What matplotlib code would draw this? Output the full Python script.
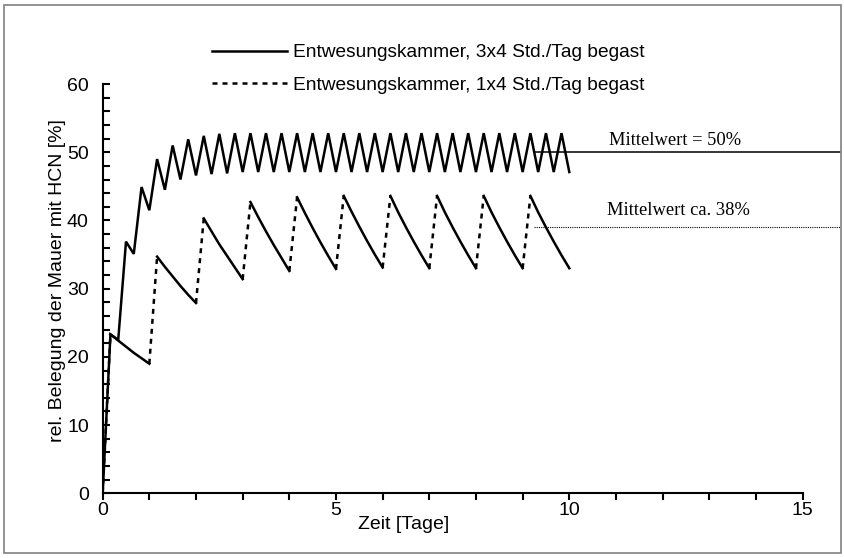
import numpy as np
import matplotlib
matplotlib.use("Agg")
import matplotlib.pyplot as plt
from matplotlib.patches import Rectangle

plt.rcParams['font.family'] = ['Liberation Sans', 'DejaVu Sans']

# 3x4 Std./Tag: Wert alle 4 Stunden (1/6 Tag), Tag 0..10
t_3x4 = np.arange(61) / 6
y_3x4 = [0, 23.3, 22.5, 36.9, 35.1, 44.9, 41.5, 49.0, 44.5, 51.0, 46.0,
         51.9, 46.6, 52.4, 46.8, 52.7, 46.9,
         52.8, 47.1, 52.8, 47.1, 52.8, 47.1, 52.8, 47.1, 52.8, 47.1,
         52.8, 47.1, 52.8, 47.1, 52.8, 47.1, 52.8, 47.1, 52.8, 47.1,
         52.8, 47.1, 52.8, 47.1, 52.8, 47.1, 52.8, 47.1, 52.8, 47.1,
         52.8, 47.1, 52.8, 47.1, 52.8, 47.1, 52.8, 47.1, 52.8, 47.1,
         52.8, 47.1, 52.8, 47.1]

# 1x4 Std./Tag: Begasung am Tagesbeginn (4 h), danach Abklingen bis Tagesende
days_1x4 = [0, 1, 2, 3, 4, 5, 6, 7, 8, 9]
start_1x4 = [0, 19.0, 27.9, 31.4, 32.6, 32.9, 33.1, 33.0, 33.0, 33.0]
decay_1x4 = [
    [23.3, 22.4, 21.5, 20.6, 19.8, 19.0],
    [34.7, 33.2, 31.8, 30.4, 29.1, 27.9],
    [40.3, 38.4, 36.5, 34.8, 33.1, 31.4],
    [42.7, 40.5, 38.4, 36.4, 34.5, 32.6],
    [43.4, 41.1, 38.9, 36.8, 34.8, 32.9],
    [43.6, 41.3, 39.1, 37.0, 35.0, 33.1],
    [43.6, 41.2, 39.0, 36.9, 34.9, 33.0],
    [43.6, 41.2, 39.0, 36.9, 34.9, 33.0],
    [43.6, 41.2, 39.0, 36.9, 34.9, 33.0],
    [43.6, 41.2, 39.0, 36.9, 34.9, 33.0],
]
decay_t = [1 / 6, 1 / 3, 1 / 2, 2 / 3, 5 / 6, 1]

mean_3x4 = 50
mean_1x4 = 39.1
mean_start = 9.25

fig = plt.figure(figsize=(8.45, 5.58), dpi=100)
ax = fig.add_axes([0.1215, 0.1159, 0.8725, 0.7335])

lw = 1.8
dash = (0, (2.0, 2.0))
ax.plot(t_3x4, y_3x4, color='black', lw=lw, solid_joinstyle='miter',
        label='Entwesungskammer, 3x4 Std./Tag begast')
for i, d in enumerate(days_1x4):
    ax.plot([d, d + 1 / 6], [start_1x4[i], decay_1x4[i][0]], color='black', lw=lw,
            linestyle=dash, label='Entwesungskammer, 1x4 Std./Tag begast' if i == 0 else None)
    ax.plot([d + s for s in decay_t], decay_1x4[i], color='black', lw=lw)

ax.plot([mean_start, 15.8], [mean_3x4, mean_3x4], color='black', lw=1.1, clip_on=False)
ax.plot([mean_start, 15.8], [mean_1x4, mean_1x4], color='black', lw=0.8,
        linestyle=(0, (1, 1)), clip_on=False)
ax.text(10.85, 51.1, 'Mittelwert = 50%', family='Liberation Serif', fontsize=13.3, va='baseline')
ax.text(10.8, 40.8, 'Mittelwert ca. 38%', family='Liberation Serif', fontsize=13.3, va='baseline')

ax.set_xlim(0, 15.8)
ax.set_ylim(0, 60)
ax.spines['top'].set_visible(False)
ax.spines['right'].set_visible(False)
ax.spines['bottom'].set_bounds(0, 15)
ax.spines['left'].set_linewidth(1.5)
ax.spines['bottom'].set_linewidth(1.5)
ax.set_xticks([0, 5, 10, 15])
ax.set_xticks(np.arange(0, 16, 1), minor=True)
ax.set_yticks(np.arange(0, 61, 10))
ax.set_yticks(np.arange(0, 61, 2), minor=True)
ax.tick_params(axis='x', which='both', direction='out', length=5, width=1.5, labelsize=14, pad=1.5)
ax.tick_params(axis='y', which='both', direction='in', length=5, width=1.5, labelsize=14, pad=10)

ax.set_xlabel('Zeit [Tage]', fontsize=14)
ax.xaxis.set_label_coords(0.4087, -0.055)
ax.set_ylabel('rel. Belegung der Mauer mit HCN [%]', fontsize=14)
ax.yaxis.set_label_coords(-0.05, 0.519)

ax.legend(loc='upper left', bbox_to_anchor=(212 / 845, 1 - 44 / 558), bbox_transform=fig.transFigure,
          frameon=False, fontsize=13.75, handlelength=3.93, handletextpad=0.31,
          labelspacing=0.8, borderpad=0, borderaxespad=0)

fig.patches.append(Rectangle((4 / 845, 5 / 558), 837 / 845, 548 / 558, transform=fig.transFigure,
                             fill=False, edgecolor='#808080', lw=1.2))

fig.savefig('out.png', dpi=100)
